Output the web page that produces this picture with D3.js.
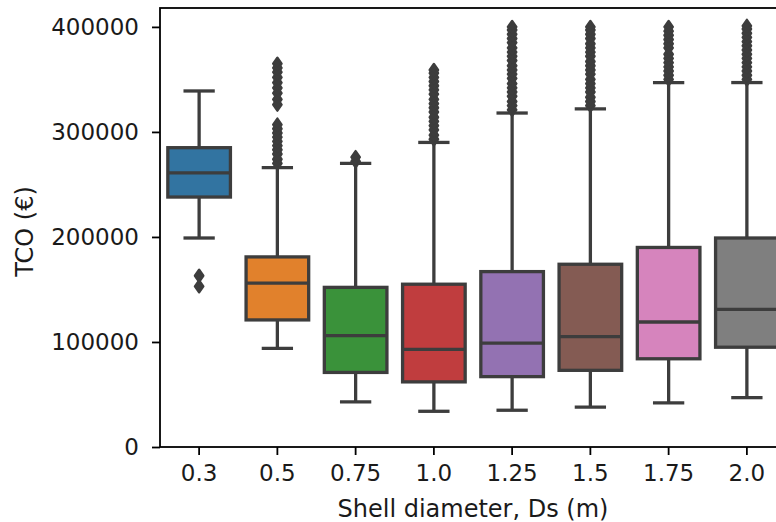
<!DOCTYPE html>
<html>
<head>
<meta charset="utf-8">
<script src="https://cdn.jsdelivr.net/npm/d3@7"></script>
<style>
    body { margin: 0; background: #fff; }
    text { font-family: "DejaVu Sans", sans-serif; }
</style>
</head>
<body>
<svg id="chart" width="776" height="522"></svg>
<script>
// diameters on the x axis
const categories = ["0.3", "0.5", "0.75", "1.0", "1.25", "1.5", "1.75", "2.0"];
// box statistics (TCO, €)
const whiskerLow = [199000, 94000, 43000, 34000, 35000, 38000, 42000, 47000];
const q1 = [238000, 121000, 71000, 62000, 67000, 73000, 84000, 95000];
const median = [261000, 156000, 106000, 93000, 99000, 105000, 119000, 131000];
const q3 = [285000, 181000, 152000, 155000, 167000, 174000, 190000, 199000];
const whiskerHigh = [339000, 266000, 270000, 290000, 318000, 322000, 347000, 347000];
// outliers per category
const outliers = [
    [163000, 153000],
    [270000, 274000, 279000, 283000, 287000, 291000, 295000, 299000, 303000, 307000,
     326000, 331000, 337000, 342000, 347000, 352000, 357000, 361000, 365000],
    [272000, 276000],
    [293000, 297000, 302000, 306000, 310000, 314000, 319000, 323000, 327000, 331000,
     336000, 340000, 344000, 348000, 352000, 356000, 359000],
    [321000, 325000, 329000, 334000, 338000, 342000, 346000, 351000, 355000, 359000,
     363000, 368000, 372000, 376000, 380000, 385000, 389000, 393000, 397000, 400000],
    [325000, 329000, 333000, 338000, 342000, 346000, 350000, 355000, 359000, 363000,
     367000, 372000, 376000, 380000, 384000, 389000, 393000, 397000, 400000],
    [350000, 354000, 358000, 362000, 366000, 370000, 374000, 380000, 384000, 388000,
     392000, 396000, 400000],
    [350000, 354000, 358000, 362000, 366000, 370000, 374000, 378000, 382000, 386000,
     390000, 394000, 398000, 401000]
];
const yTicks = [0, 100000, 200000, 300000, 400000];

const colors = ["#3274a1", "#e1812c", "#3a923a", "#c03d3e", "#9372b2", "#845b53", "#d684bd", "#7f7f7f"];
const gray = "#3d3d3d";

const margin = {left: 160, top: 8, bottom: 447, right: 786};

const svg = d3.select("#chart");

const x = d3.scaleBand()
    .domain(categories)
    .range([margin.left, margin.right])
    .paddingInner(0.2)
    .paddingOuter(0.1);

const y = d3.scaleLinear()
    .domain([0, 418000])
    .range([margin.bottom, margin.top]);

const boxes = categories.map((c, i) => ({
    cat: c,
    lo: whiskerLow[i], q1: q1[i], med: median[i], q3: q3[i], hi: whiskerHigh[i],
    fliers: outliers[i], color: colors[i]
}));

const g = svg.append("g");
const bw = x.bandwidth();
const lw = 3.3;

const box = g.selectAll("g.box")
    .data(boxes)
    .enter()
    .append("g")
    .attr("class", "box")
    .attr("transform", d => `translate(${x(d.cat) + bw / 2},0)`);

// whiskers
box.append("line")
    .attr("x1", 0).attr("x2", 0)
    .attr("y1", d => y(d.q3)).attr("y2", d => y(d.hi))
    .attr("stroke", gray).attr("stroke-width", lw);
box.append("line")
    .attr("x1", 0).attr("x2", 0)
    .attr("y1", d => y(d.q1)).attr("y2", d => y(d.lo))
    .attr("stroke", gray).attr("stroke-width", lw);
// caps
box.append("line")
    .attr("x1", -bw / 4).attr("x2", bw / 4)
    .attr("y1", d => y(d.hi)).attr("y2", d => y(d.hi))
    .attr("stroke", gray).attr("stroke-width", lw);
box.append("line")
    .attr("x1", -bw / 4).attr("x2", bw / 4)
    .attr("y1", d => y(d.lo)).attr("y2", d => y(d.lo))
    .attr("stroke", gray).attr("stroke-width", lw);
// box
box.append("rect")
    .attr("x", -bw / 2)
    .attr("width", bw)
    .attr("y", d => y(d.q3))
    .attr("height", d => y(d.q1) - y(d.q3))
    .attr("fill", d => d.color)
    .attr("stroke", gray)
    .attr("stroke-width", lw);
// median
box.append("line")
    .attr("x1", -bw / 2).attr("x2", bw / 2)
    .attr("y1", d => y(d.med)).attr("y2", d => y(d.med))
    .attr("stroke", gray).attr("stroke-width", lw);
// fliers, thin diamonds
const dh = 6, dw = 4.2;
box.selectAll("path.flier")
    .data(d => d.fliers)
    .enter()
    .append("path")
    .attr("class", "flier")
    .attr("d", v => `M 0 ${y(v) - dh} L ${dw} ${y(v)} L 0 ${y(v) + dh} L ${-dw} ${y(v)} Z`)
    .attr("fill", gray)
    .attr("stroke", gray)
    .attr("stroke-width", 2.4)
    .attr("stroke-linejoin", "round");

// axes
const yAxis = svg.append("g")
    .attr("transform", `translate(${margin.left},0)`)
    .call(d3.axisLeft(y).tickValues(yTicks).tickFormat(d3.format("d")).tickSize(8).tickPadding(13));
const xAxis = svg.append("g")
    .attr("transform", `translate(0,${margin.bottom})`)
    .call(d3.axisBottom(x).tickSize(8).tickPadding(10));
[yAxis, xAxis].forEach(a => {
    a.select(".domain").remove();
    a.selectAll(".tick line").attr("stroke", "#000").attr("stroke-width", 1.8);
    a.selectAll(".tick text")
        .attr("fill", "#1a1a1a")
        .style("font-size", "23px")
        .style("font-family", "DejaVu Sans");
});

// spines
svg.append("rect")
    .attr("x", margin.left)
    .attr("y", margin.top)
    .attr("width", margin.right - margin.left)
    .attr("height", margin.bottom - margin.top)
    .attr("fill", "none")
    .attr("stroke", "#000")
    .attr("stroke-width", 1.8);

// labels
svg.append("text")
    .text("Shell diameter, Ds (m)")
    .attr("x", (margin.left + margin.right) / 2)
    .attr("y", 517)
    .attr("text-anchor", "middle")
    .attr("fill", "#1a1a1a")
    .style("font-size", "24px");
svg.append("text")
    .text("TCO (€)")
    .attr("transform", `translate(33,${(margin.top + margin.bottom) / 2 + 4}) rotate(-90)`)
    .attr("text-anchor", "middle")
    .attr("fill", "#1a1a1a")
    .style("font-size", "24px");
</script>
</body>
</html>
